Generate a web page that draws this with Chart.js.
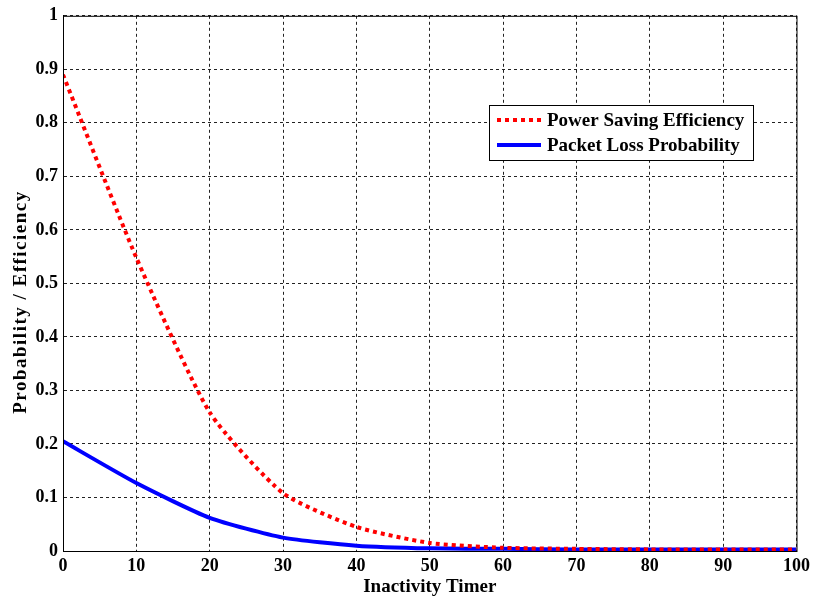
<!DOCTYPE html>
<html>
<head>
<meta charset="utf-8">
<script src="https://cdn.jsdelivr.net/npm/chart.js@4.4.0/dist/chart.umd.min.js"></script>
<style>
  html, body { margin: 0; padding: 0; background: #fff; }
  #wrap { width: 815px; height: 601px; }
</style>
</head>
<body>
<div id="wrap"><canvas id="chart" width="815" height="601"></canvas></div>
<script>
// values
const timer = [0, 10, 20, 30, 40, 50, 60, 70, 80, 90, 100];
const powerSaving = [0.89, 0.548, 0.259, 0.108, 0.045, 0.015, 0.006, 0.004, 0.003, 0.003, 0.003];
const packetLoss = [0.205, 0.127, 0.062, 0.025, 0.010, 0.005, 0.004, 0.003, 0.003, 0.003, 0.003];
const xTicks = [0, 10, 20, 30, 40, 50, 60, 70, 80, 90, 100];
const yTicks = [0, 0.1, 0.2, 0.3, 0.4, 0.5, 0.6, 0.7, 0.8, 0.9, 1];
const yTitle = 'Probability / Efficiency';

const serif = "'Liberation Serif', 'DejaVu Serif', serif";

// box around plot, y title and legend inside the plot area
const boxAndLegend = {
    id: 'boxAndLegend',
    afterDatasetsDraw(chart) {
        const { ctx, chartArea: a } = chart;
        ctx.save();
        ctx.strokeStyle = '#000';
        ctx.lineWidth = 1;
        ctx.setLineDash([]);
        ctx.strokeRect(a.left + 0.5, a.top + 0.5, a.right - a.left, a.bottom - a.top);

        // y title (letter-spaced like the original)
        ctx.save();
        ctx.translate(21, 302);
        ctx.rotate(-Math.PI / 2);
        ctx.font = 'bold 19px ' + serif;
        ctx.letterSpacing = '1.5px';
        ctx.fillStyle = '#000';
        ctx.textAlign = 'center';
        ctx.textBaseline = 'middle';
        ctx.fillText(yTitle, 0, 0);
        ctx.restore();

        // legend
        const lx = 489, ly = 105, lw = 264, lh = 55;
        ctx.fillStyle = '#fff';
        ctx.fillRect(lx, ly, lw, lh);
        ctx.strokeRect(lx + 0.5, ly + 0.5, lw, lh);
        ctx.font = 'bold 19px ' + serif;
        ctx.textBaseline = 'middle';
        chart.data.datasets.forEach((ds, i) => {
            const y = ly + 15 + i * 25;
            ctx.beginPath();
            ctx.strokeStyle = ds.borderColor;
            ctx.lineWidth = ds.borderWidth;
            ctx.lineCap = 'butt';
            ctx.setLineDash(ds.borderDash || []);
            ctx.moveTo(lx + 8, y);
            ctx.lineTo(lx + 52, y);
            ctx.stroke();
            ctx.setLineDash([]);
            ctx.fillStyle = '#000';
            ctx.fillText(ds.label, lx + 58, y + 1);
        });
        ctx.restore();
    }
};

new Chart(document.getElementById('chart'), {
    type: 'line',
    data: {
        datasets: [
            {
                label: 'Power Saving Efficiency',
                data: timer.map((t, i) => ({ x: t, y: powerSaving[i] })),
                borderColor: '#ff0000',
                borderWidth: 4,
                borderDash: [4, 4],
                pointRadius: 0,
                tension: 0.2,
                fill: false
            },
            {
                label: 'Packet Loss Probability',
                data: timer.map((t, i) => ({ x: t, y: packetLoss[i] })),
                borderColor: '#0000ff',
                borderWidth: 4,
                pointRadius: 0,
                tension: 0.2,
                fill: false
            }
        ]
    },
    options: {
        responsive: false,
        animation: false,
        layout: { padding: { left: 0, right: 18, top: 15, bottom: 0 } },
        plugins: {
            legend: { display: false },
            tooltip: { enabled: false }
        },
        scales: {
            x: {
                type: 'linear',
                min: 0,
                max: 100,
                afterBuildTicks: s => { s.ticks = xTicks.map(v => ({ value: v })); },
                afterFit: s => { s.height = 50; },
                ticks: {
                    color: '#000',
                    font: { family: serif, size: 18, weight: 'bold' },
                    padding: 5,
                    maxRotation: 0
                },
                grid: {
                    color: '#222',
                    lineWidth: 1,
                    drawTicks: false
                },
                border: { display: true, color: '#000', dash: [3, 3] },
                title: {
                    display: true,
                    text: 'Inactivity Timer',
                    color: '#000',
                    font: { family: serif, size: 19, weight: 'bold' },
                    padding: { top: 0, bottom: 3 }
                }
            },
            y: {
                min: 0,
                max: 1,
                afterBuildTicks: s => { s.ticks = yTicks.map(v => ({ value: v })); },
                afterFit: s => { s.width = 63; },
                ticks: {
                    color: '#000',
                    font: { family: serif, size: 18, weight: 'bold' },
                    padding: 5,
                    callback: v => String(Math.round(v * 10) / 10)
                },
                grid: {
                    color: '#222',
                    lineWidth: 1,
                    drawTicks: false
                },
                border: { display: true, color: '#000', dash: [3, 3] },
                title: { display: false }
            }
        }
    },
    plugins: [boxAndLegend]
});
</script>
</body>
</html>
